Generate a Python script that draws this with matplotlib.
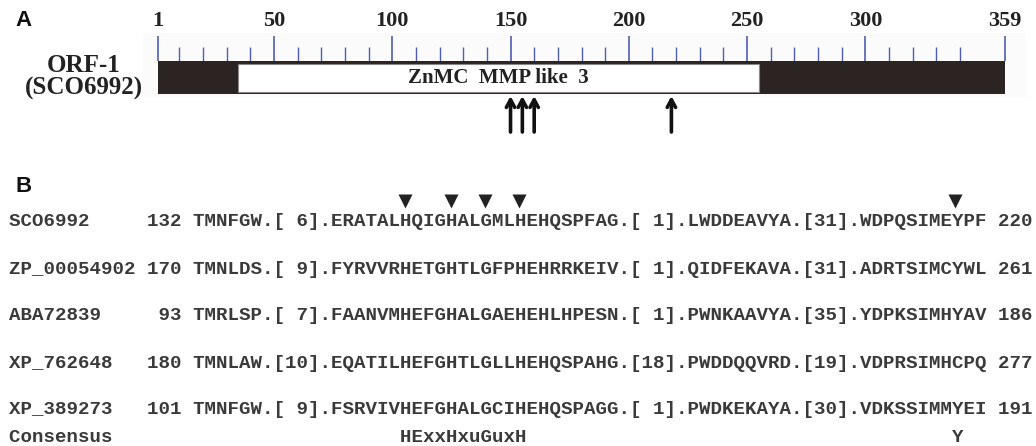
import re
import matplotlib
matplotlib.use("Agg")
import matplotlib.pyplot as plt
from matplotlib.patches import Rectangle

# ---- panel A data ----
protein_len = 359
domain_start, domain_end = 35, 255
domain_label = "ZnMC  MMP like  3"
major_ticks = [1, 50, 100, 150, 200, 250, 300, 359]
minor_ticks = [t for t in range(10, 360, 10) if t % 50 != 0]
site_arrows = [150, 155, 160, 218]
orf_label = "ORF-1\n(SCO6992)"

# ---- panel B data ----
names = ["SCO6992", "ZP_00054902", "ABA72839", "XP_762648", "XP_389273"]
starts = [132, 170, 93, 180, 101]
ends = [220, 261, 186, 277, 191]
aligned = [
    "TMNFGW.[ 6].ERATALHQIGHALGMLHEHQSPFAG.[ 1].LWDDEAVYA.[31].WDPQSIMEYPF",
    "TMNLDS.[ 9].FYRVVRHETGHTLGFPHEHRRKEIV.[ 1].QIDFEKAVA.[31].ADRTSIMCYWL",
    "TMRLSP.[ 7].FAANVMHEFGHALGAEHEHLHPESN.[ 1].PWNKAAVYA.[35].YDPKSIMHYAV",
    "TMNLAW.[10].EQATILHEFGHTLGLLHEHQSPAHG.[18].PWDDQQVRD.[19].VDPRSIMHCPQ",
    "TMNFGW.[ 9].FSRVIVHEFGHALGCIHEHQSPAGG.[ 1].PWDKEKAYA.[30].VDKSSIMMYEI",
]
consensus_name = "Consensus"
consensus_motif = "HExxHxuGuxH"
marked_residues = [150, 154, 157, 160, 218]   # residues of SCO6992 with a triangle

W, H = 1036, 446
fig = plt.figure(figsize=(W / 100, H / 100), dpi=100)

# panel A axes: x in residues, y in pixels
px_per_res = (1005 - 158) / (protein_len - 1)
ax = fig.add_axes([0, 0, 1, 1])
ax.set_xlim(1 - 158 / px_per_res, 1 + (W - 158) / px_per_res)
ax.set_ylim(H, 0)
ax.axis("off")

def rx(px):
    return 1 + (px - 158) / px_per_res

serif = "Liberation Serif"
ax.add_patch(Rectangle((rx(143), 33), rx(1026) - rx(143), 64, facecolor="#fbfbfb",
                       edgecolor="none", zorder=0))

tick_col = "#4f5fb0"
ax.vlines(major_ticks, 36, 61, color=tick_col, lw=1.2, zorder=1)
ax.vlines(minor_ticks, 47, 61, color=tick_col, lw=1.0, zorder=1)
for t in major_ticks:
    ax.text(t, 21, str(t), ha="center", va="center", fontsize=16, fontweight="bold",
            family=serif, color="#222222")

ax.add_patch(Rectangle((1, 61), protein_len - 1, 33, facecolor="#2b2422", edgecolor="none", zorder=2))
ax.add_patch(Rectangle((domain_start, 63.5), domain_end - domain_start, 28.5, facecolor="white",
                       edgecolor="#888888", lw=0.8, zorder=3))
ax.text((domain_start + domain_end) / 2, 78, domain_label, ha="center", va="center", fontsize=15,
        fontweight="bold", family=serif, color="#222222", zorder=4)
ax.text(rx(84), 77, orf_label, ha="center", va="center", fontsize=18, fontweight="bold",
        family=serif, color="#222222", linespacing=1.0)

for r in site_arrows:
    ax.annotate("", xy=(r, 96), xytext=(r, 132),
                arrowprops=dict(arrowstyle="->,head_length=0.55,head_width=0.3", lw=2.6,
                                color="#111111", shrinkA=0, shrinkB=0))

ax.text(rx(23), 21, "A", ha="center", va="center", fontsize=16, fontweight="bold",
        family="Liberation Sans", color="#111111")
ax.text(rx(24), 186, "B", ha="center", va="center", fontsize=16, fontweight="bold",
        family="Liberation Sans", color="#111111")

# panel B axes: x in character columns, y in pixels
char_w = 11.47
x0 = 9
bx = fig.add_axes([0, 0, 1, 1])
bx.set_xlim(-x0 / char_w, (W - x0) / char_w)
bx.set_ylim(H, 0)
bx.axis("off")
bx.patch.set_alpha(0)

mono_size = char_w / 0.6 * 72 / 100
row_y = [222, 269, 316, 363, 410]
lines = []
for n, s, a, e in zip(names, starts, aligned, ends):
    lines.append(f"{n:<11} {s:>3} {a} {e:>3}")
for y, line in zip(row_y, lines):
    bx.text(0, y, line, ha="left", va="center", family="Liberation Mono", fontweight="bold",
            fontsize=mono_size, color="#3a3a3a")

# map residue numbers of the first sequence to alignment columns
prefix = 16
col_of = {}
pos = starts[0]
i = 0
seq0 = aligned[0]
while i < len(seq0):
    c = seq0[i]
    if c == "[":
        j = seq0.index("]", i)
        pos += int(seq0[i + 1:j])
        i = j + 1
        continue
    if c.isalpha():
        col_of[pos] = prefix + i
        pos += 1
    i += 1

cons = [" "] * len(lines[0])
cons[:len(consensus_name)] = list(consensus_name)
for k, ch in enumerate(consensus_motif):
    cons[col_of[150] + k] = ch
cons[col_of[218]] = "Y"
bx.text(0, 437, "".join(cons).rstrip(), ha="left", va="center", family="Liberation Mono",
        fontweight="bold", fontsize=mono_size, color="#3a3a3a")

tri_cols = [col_of[r] + 0.5 for r in marked_residues]
bx.plot(tri_cols, [201] * len(tri_cols), "v", ms=10, color="#222222", mec="none")

fig.savefig("out.png", dpi=100)
